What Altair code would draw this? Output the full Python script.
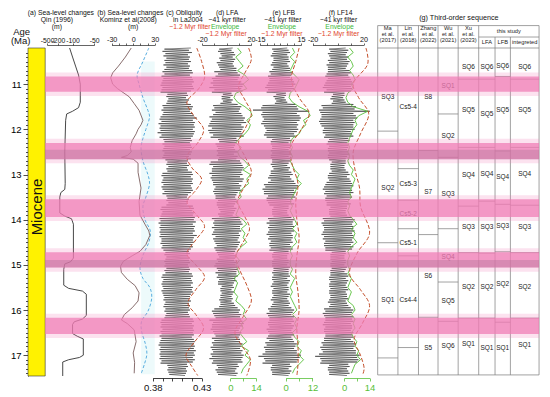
import json
import altair as alt
import pandas as pd

FONT = "Liberation Sans"
W, H = 514, 328


def X(r):
    """column of the reference picture (px) -> plot x (px)"""
    return round((r - 2) * 0.978 - 20, 2)


def AGE(r):
    """row of the reference picture (px) -> position on the age scale"""
    return round(11 + (r - 80) / 46.3, 3)


# ---------------- (a) Qin (1996) sea level (m) ----------------
qin_age = [10.20, 10.40, 10.60, 10.80, 11.00, 11.40, 11.52, 11.60, 11.66, 11.80,
           12.50, 13.20, 13.33, 13.40, 13.50, 13.85, 13.92, 13.98, 14.10, 14.85,
           14.93, 14.98, 15.10, 15.45, 15.52, 15.58, 15.65, 16.12, 16.20, 16.26,
           16.32, 16.52, 16.58, 16.64, 17.00, 17.05, 17.10, 17.15, 17.46]
qin_sl = [-120, -100, -93, -86, -82, -82, -86, -100, -140, -147,
          -153, -150, -153, -180, -187, -187, -153, -107, -98, -98,
          -113, -153, -160, -160, -127, -77, -68, -68, -77, -96,
          -100, -100, -89, -75, -75, -84, -127, -167, -167]

# ---------------- (b) Kominz et al. (2008) sea level (m) ----------------
kom_age = [10.20, 10.40, 10.60, 10.75, 10.86, 11.00, 11.10, 11.28, 11.43, 11.58,
           11.80, 11.90, 12.00, 12.10, 12.25, 12.40, 12.50, 12.58, 12.62, 12.66,
           12.75, 12.95, 13.30, 13.60, 13.90, 14.10, 14.25, 14.35, 14.55, 14.70,
           14.80, 14.92, 15.03, 15.17, 15.32, 15.46, 15.62, 15.80, 15.95, 16.10,
           16.22, 16.30, 16.44, 16.70, 16.95, 17.16, 17.40]
kom_sl = [-2.7, -10.9, -20.5, -28.6, -31.4, -28.6, -21.8, -5.5, 1.4, 8.2,
          13.6, 10.9, 6.8, 4.1, -1.4, -4.1, -2.7, -8.2, -16.4, 0.0,
          6.8, 6.8, 10.9, 8.2, 9.5, 16.4, 21.8, 23.2, 17.7, 9.5,
          -1.4, -13.6, -17.7, -16.4, -8.2, 2.7, 8.2, 6.8, -1.4, -12.3,
          -16.4, -8.2, 1.4, 4.1, 0.0, 2.0, 1.4]
komf_age = [10.20, 10.50, 10.80, 11.00, 11.30, 11.58, 11.72, 12.00, 12.20, 12.40,
            12.70, 13.00, 13.20, 13.50, 13.70, 14.00, 14.25, 14.50, 14.79, 15.08,
            15.30, 15.50, 15.72, 16.03, 16.25, 16.46, 16.75, 16.97, 17.18, 17.40]
komf_sl = [21.8, 13.6, 5.5, 8.2, 13.6, 20.5, 22.8, 17.7, 13.6, 10.9,
           13.6, 20.5, 22.8, 17.7, 13.6, 16.4, 23.9, 21.8, 13.6, 9.5,
           13.6, 23.2, 25.9, 20.5, 11.6, 11.6, 17.0, 19.1, 16.0, 11.3]

# ---------------- ~41 kyr series, one value every 0.025 Myr from 10.20 Ma ----------------
WIG_START, WIG_STEP = 10.2, 0.025
obliquity = [
    0.419, 0.392, 0.417, 0.390, 0.420, 0.393, 0.416, 0.391, 0.418, 0.394,
    0.417, 0.392, 0.419, 0.393, 0.416, 0.391, 0.418, 0.394, 0.417, 0.392,
    0.420, 0.390, 0.421, 0.392, 0.418, 0.389, 0.420, 0.391, 0.421, 0.390,
    0.422, 0.389, 0.420, 0.388, 0.421, 0.390, 0.422, 0.389, 0.419, 0.388,
    0.415, 0.395, 0.416, 0.394, 0.414, 0.396, 0.417, 0.395, 0.415, 0.394,
    0.419, 0.390, 0.421, 0.391, 0.420, 0.389, 0.418, 0.391, 0.421, 0.390,
    0.422, 0.388, 0.425, 0.387, 0.421, 0.389, 0.423, 0.386, 0.422, 0.388,
    0.423, 0.387, 0.421, 0.388, 0.423, 0.385, 0.422, 0.389, 0.421, 0.387,
    0.419, 0.391, 0.420, 0.392, 0.418, 0.390, 0.419, 0.392, 0.420, 0.391,
    0.418, 0.390, 0.420, 0.392, 0.419, 0.391, 0.417, 0.390, 0.419, 0.393,
    0.416, 0.395, 0.415, 0.394, 0.417, 0.396, 0.415, 0.394, 0.416, 0.395,
    0.420, 0.390, 0.421, 0.389, 0.419, 0.391, 0.421, 0.390, 0.420, 0.389,
    0.421, 0.391, 0.419, 0.389, 0.420, 0.390, 0.421, 0.392, 0.419, 0.390,
    0.416, 0.394, 0.415, 0.395, 0.417, 0.394, 0.416, 0.396, 0.415, 0.394,
    0.421, 0.389, 0.422, 0.388, 0.420, 0.390, 0.422, 0.389, 0.421, 0.388,
    0.423, 0.387, 0.422, 0.388, 0.424, 0.386, 0.421, 0.388, 0.423, 0.387,
    0.422, 0.388, 0.423, 0.387, 0.421, 0.388, 0.425, 0.387, 0.422, 0.389,
    0.421, 0.389, 0.422, 0.388, 0.420, 0.390, 0.421, 0.389, 0.419, 0.391,
    0.417, 0.393, 0.418, 0.392, 0.416, 0.394, 0.418, 0.393, 0.417, 0.392,
    0.418, 0.393, 0.416, 0.392, 0.417, 0.394, 0.418, 0.392, 0.417, 0.393,
    0.420, 0.390, 0.421, 0.389, 0.419, 0.391, 0.420, 0.390, 0.421, 0.389,
    0.419, 0.390, 0.421, 0.391, 0.420, 0.389, 0.421, 0.390, 0.419, 0.391,
    0.418, 0.392, 0.417, 0.391, 0.419, 0.393, 0.417, 0.392, 0.418, 0.391,
    0.417, 0.393, 0.418, 0.392, 0.416, 0.394, 0.417, 0.393, 0.418, 0.392,
    0.421, 0.389, 0.422, 0.388, 0.420, 0.389, 0.422, 0.388, 0.421, 0.390,
    0.422, 0.388, 0.421, 0.389, 0.422, 0.387, 0.420, 0.389, 0.422, 0.388,
    0.423, 0.387, 0.422, 0.386, 0.423, 0.388, 0.422, 0.387, 0.424, 0.388,
    0.422, 0.387, 0.423, 0.388, 0.421, 0.387, 0.423, 0.389, 0.421, 0.388,
    0.415, 0.395, 0.416, 0.396, 0.414, 0.395, 0.415, 0.396, 0.414, 0.397,
    0.413]
lfa = [
    5, -6, 4, -7, 6, -5, 7, -4, 5, -6,
    7, -5, 6, -8, 5, -7, 6, -6, 8, -5,
    8, -10, 9, -7, 11, -9, 10, -12, 9, -11,
    12, -13, 14, -11, 13, -14, 12, -10, 13, -12,
    4, -3, 5, -4, 3, -4, 5, -3, 4, -5,
    9, -11, 12, -10, 11, -12, 10, -9, 12, -11,
    13, -14, 15, -12, 14, -13, 16, -14, 12, -15,
    14, -12, 13, -15, 12, -14, 13, -11, 14, -13,
    8, -7, 9, -6, 8, -9, 7, -8, 6, -7,
    7, -8, 9, -7, 6, -8, 9, -6, 8, -7,
    11, -13, 12, -14, 13, -11, 14, -12, 13, -12,
    12, -14, 13, -12, 11, -13, 14, -12, 13, -11,
    10, -11, 12, -9, 11, -10, 12, -11, 9, -10,
    8, -9, 7, -9, 8, -7, 9, -8, 7, -8,
    6, -7, 8, -6, 7, -5, 6, -7, 5, -6,
    10, -12, 11, -10, 12, -11, 13, -10, 11, -12,
    11, -10, 12, -11, 10, -12, 11, -9, 10, -11,
    9, -10, 11, -9, 10, -8, 9, -10, 8, -9,
    7, -8, 6, -7, 8, -6, 7, -8, 6, -7,
    8, -9, 7, -10, 9, -8, 9, -7, 8, -9,
    8, -7, 9, -8, 7, -6, 8, -7, 6, -7,
    5, -4, 6, -5, 4, -5, 6, -4, 5, -5,
    4, -5, 5, -6, 4, -5, 6, -5, 7, -6,
    9, -10, 11, -12, 10, -11, 12, -10, 11, -9,
    12, -14, 13, -11, 14, -12, 13, -12, 11, -13,
    10, -11, 12, -10, 11, -9, 10, -12, 11, -10,
    11, -12, 13, -11, 12, -13, 11, -12, 13, -11,
    12, -13, 14, -12, 13, -14, 12, -11, 13, -12,
    9, -8, 10, -7, 8, -9, 7, -8, 9, -7,
    8]
lfb = [
    5, -6, 6, -5, 7, -6, 5, -7, 6, -5,
    6, -5, 7, -6, 5, -7, 6, -5, 7, -6,
    7, -8, 9, -7, 8, -9, 7, -8, 9, -8,
    10, -9, 11, -10, 9, -11, 10, -9, 8, -10,
    4, -3, 4, -5, 3, -4, 4, -3, 5, -4,
    11, -13, 12, -14, 13, -20, 21, -13, 12, -14,
    14, -13, 15, -12, 14, -13, 12, -14, 13, -12,
    12, -11, 13, -10, 12, -11, 10, -12, 11, -10,
    7, -6, 8, -7, 6, -7, 8, -6, 7, -6,
    6, -7, 7, -6, 8, -7, 6, -7, 7, -6,
    7, -6, 6, -7, 5, -6, 7, -5, 6, -7,
    8, -7, 9, -8, 7, -9, 8, -7, 10, -9,
    11, -12, 13, -11, 12, -13, 10, -12, 11, -12,
    10, -9, 11, -10, 9, -10, 8, -9, 10, -8,
    6, -5, 6, -6, 5, -6, 5, -6, 6, -5,
    8, -9, 10, -8, 9, -10, 9, -8, 10, -9,
    9, -8, 10, -9, 8, -10, 9, -8, 9, -9,
    8, -7, 9, -8, 7, -8, 8, -7, 9, -8,
    6, -5, 6, -6, 5, -6, 5, -5, 6, -6,
    6, -6, 5, -6, 7, -5, 6, -5, 6, -6,
    6, -5, 7, -6, 5, -6, 7, -5, 6, -6,
    5, -7, 6, -5, 6, -6, 5, -6, 7, -5,
    6, -6, 5, -7, 6, -5, 7, -6, 6, -7,
    8, -9, 10, -8, 9, -10, 8, -9, 10, -8,
    9, -8, 10, -9, 8, -9, 10, -8, 9, -10,
    8, -9, 9, -8, 10, -9, 8, -10, 9, -8,
    10, -11, 12, -10, 11, -12, 10, -11, 12, -11,
    12, -13, 15, -16, 14, -12, 13, -11, 12, -13,
    7, -6, 8, -7, 6, -7, 8, -6, 7, -6,
    6]
lf14 = [
    6, -7, 8, -6, 7, -8, 6, -7, 8, -6,
    7, -8, 9, -7, 8, -9, 7, -8, 6, -8,
    9, -8, 10, -9, 8, -10, 9, -8, 10, -9,
    11, -10, 12, -11, 10, -12, 11, -9, 10, -11,
    5, -4, 5, -5, 4, -6, 5, -4, 6, -5,
    12, -13, 14, -12, 13, -15, 25, -14, 12, -13,
    14, -13, 15, -14, 12, -15, 13, -14, 12, -13,
    12, -11, 13, -12, 10, -12, 11, -10, 12, -11,
    8, -7, 9, -8, 7, -9, 8, -7, 8, -8,
    7, -8, 8, -7, 9, -8, 7, -8, 6, -7,
    6, -5, 6, -6, 5, -6, 5, -6, 6, -5,
    8, -7, 9, -8, 7, -8, 9, -7, 10, -9,
    11, -10, 12, -11, 10, -12, 11, -10, 12, -11,
    10, -9, 11, -10, 9, -10, 8, -9, 10, -9,
    7, -6, 7, -7, 6, -7, 6, -7, 7, -6,
    11, -12, 13, -11, 12, -13, 11, -12, 12, -11,
    12, -11, 13, -12, 11, -13, 12, -11, 12, -12,
    11, -10, 12, -11, 10, -11, 12, -10, 11, -10,
    6, -5, 6, -6, 5, -6, 5, -6, 6, -5,
    6, -6, 5, -6, 7, -5, 6, -6, 5, -6,
    7, -6, 8, -7, 6, -7, 8, -6, 7, -7,
    6, -7, 7, -6, 8, -7, 6, -7, 7, -6,
    7, -6, 8, -7, 6, -8, 7, -6, 8, -7,
    10, -11, 12, -10, 11, -12, 10, -11, 12, -10,
    11, -10, 12, -11, 10, -12, 11, -10, 11, -11,
    10, -11, 12, -10, 11, -10, 12, -11, 10, -11,
    12, -13, 14, -12, 13, -14, 12, -13, 14, -12,
    14, -15, 17, -18, 15, -14, 16, -13, 15, -14,
    8, -7, 9, -8, 7, -8, 8, -7, 9, -7,
    7]

# ---------------- envelopes, one value every 0.1 Myr from 10.2 Ma ----------------
ENV_START, ENV_STEP = 10.2, 0.1
lfa_env = [4, 6, 3, 5, 7, 4, 8, 10, 7, 9, 3, 2, 4, 8, 11, 12, 9, 11, 10, 8,
           5, 3, 6, 4, 5, 8, 10, 7, 11, 9, 10, 7, 5, 6, 3, 5, 4, 3,
           7, 9, 6, 8, 7, 9, 6, 4, 3, 5, 3, 4, 5, 2, 4, 3, 2, 4, 3,
           6, 8, 7, 9, 6, 7, 5, 7, 9, 6, 10, 8, 11, 9, 7, 6]
lfb_env = [3, 4, 2, 4, 3, 2, 4, 6, 5, 4, 2, 1.5, 3, 6, 10, 11, 8, 9, 7, 6,
           3, 2, 3, 2, 3, 2, 3, 4, 6, 5, 7, 5, 4, 3, 2, 3, 2, 3,
           4, 5, 3, 5, 4, 5, 3, 2, 3, 2, 2, 3, 2, 4, 3, 2, 3, 2, 3,
           4, 5, 3, 5, 4, 5, 3, 4, 6, 5, 7, 6, 8, 6, 4, 3]
lf14_env = [3, 5, 2, 4, 5, 3, 5, 6, 4, 5, 2, 1, 2, 5, 13, 8, 6, 7, 5, 4,
            3, 2, 3, 2, 3, 2, 3, 5, 4, 6, 5, 4, 3, 4, 2, 3, 2, 3,
            5, 7, 4, 6, 5, 7, 4, 2, 3, 2, 2, 3, 2, 4, 3, 2, 4, 3, 2,
            5, 6, 4, 6, 5, 6, 4, 5, 7, 6, 8, 7, 9, 6, 5, 4]

# ---------------- ~1.2 Myr filter curves ----------------
oblf_age = [10.2, 10.5, 10.85, 11.1, 11.4, 11.7, 12.0, 12.3, 12.6, 12.85, 13.1, 13.35, 13.6, 13.9,
            14.15, 14.45, 14.75, 15.0, 15.27, 15.55, 15.85, 16.1, 16.4, 16.7, 17.0, 17.25, 17.45]
oblf_val = [0.425, 0.430, 0.433, 0.427, 0.415, 0.422, 0.432, 0.426, 0.415, 0.420, 0.430, 0.424, 0.415, 0.425,
            0.433, 0.424, 0.415, 0.424, 0.433, 0.424, 0.416, 0.424, 0.432, 0.423, 0.414, 0.420, 0.426]
lfaf_age = [10.2, 10.45, 10.75, 11.05, 11.35, 11.65, 11.95, 12.3, 12.6, 12.95, 13.25, 13.6,
            13.9, 14.2, 14.5, 14.8, 15.1, 15.45, 15.8, 16.15, 16.5, 16.8, 17.1, 17.45]
lfaf_val = [10, 11.5, 8, 4.5, 8, 11.5, 8.5, 4.5, 8, 11.5, 8, 4,
            7.5, 10.5, 7, 3, 5, 9, 11.5, 7, 2.5, 6.5, 11, 9]
lfbf_age = [10.2, 10.5, 10.9, 11.3, 11.65, 12.0, 12.4, 12.8, 13.2, 13.6,
            14.0, 14.4, 14.8, 15.2, 15.6, 16.0, 16.4, 16.8, 17.2, 17.45]
lfbf_val = [6, 4.5, 2.5, 6, 10.5, 7, 2, 3, 5.5, 4.5, 5, 6, 5, 4.5, 5.5, 6, 5, 5.5, 5.5, 5]
lf14f_age = [10.2, 10.55, 11.0, 11.3, 11.65, 12.1, 12.5, 12.9, 13.3, 13.7,
             14.3, 14.75, 15.2, 15.55, 15.9, 16.3, 16.65, 17.0, 17.3, 17.45]
lf14f_val = [12, 13, 5, 8, 13.5, 9, 5, 6, 8.5, 9, 14, 7, 3, 9, 14, 10, 5.5, 9, 11, 10]

# ---------------- highlighted intervals (Ma) ----------------
band_top = [10.83, 12.30, 13.55, 14.72, 16.17]
band_bot = [11.17, 12.66, 13.94, 15.06, 16.53]
dark_top = [12.45, 14.89]
dark_bot = [12.66, 15.06]

# ---------------- (g) third-order sequence table ----------------
tab_cols = ["Ma", "Lin", "Zhang", "Wu", "Xu", "LFA", "LFB", "integreted"]
tab_years = ["(2017)", "(2018)", "(2022)", "(2021)", "(2023)"]
tab_lines = [
    [12.04, 14.51, 17.06],
    [12.87, 13.57, 14.20, 14.80, 16.83],
    [12.47, 14.33, 16.16],
    [11.66, 12.62, 14.20, 15.38, 16.25],
    [10.89, 12.40, 13.70, 14.73, 16.18],
    [10.89, 12.40, 13.59, 14.74, 16.18],
    [10.83, 12.48, 13.66, 14.71, 16.27],
    [10.89, 12.40, 13.68, 14.73, 16.18],
]
tab_labels = [
    [(11.28, "SQ3"), (13.30, "SQ2"), (15.77, "SQ1")],
    [(11.50, "Cs5-4"), (13.22, "Cs5-3"), (13.87, "Cs5-2"), (14.51, "Cs5-1"), (15.77, "Cs4-4")],
    [(11.28, "S8"), (13.38, "S7"), (15.25, "S6"), (16.83, "S5")],
    [(11.04, "SQ1"), (12.14, "SQ2"), (13.43, "SQ3"), (14.82, "SQ4"), (15.79, "SQ5"), (16.79, "SQ6")],
    [(10.63, "SQ6"), (11.58, "SQ5"), (13.01, "SQ4"), (14.17, "SQ3"), (15.49, "SQ2"), (16.76, "SQ1")],
    [(10.63, "SQ6"), (11.66, "SQ5"), (12.98, "SQ4"), (14.17, "SQ3"), (15.49, "SQ2"), (16.83, "SQ1")],
    [(10.59, "SQ6"), (11.58, "SQ5"), (13.05, "SQ4"), (14.13, "SQ3"), (15.43, "SQ2"), (16.84, "SQ1")],
    [(10.63, "SQ6"), (11.58, "SQ5"), (12.99, "SQ4"), (14.17, "SQ3"), (15.49, "SQ2"), (16.77, "SQ1")],
]
tab_edges_ref = [380, 400.7, 421.7, 441.7, 462.3, 483.3, 500, 515.7, 545]

# ---------------- colours ----------------
RED = "#c4502c"
GREEN = "#58c03a"
PINK = "#f07cb4"
WIGGLE = "#3d3d3d"

# ================= helpers =================
yscale = alt.Scale(domain=[10.2, 17.46], reverse=True, nice=False, zero=False)
MAJOR = "abs(datum.value - round(datum.value)) < 0.01"
yaxis = alt.Axis(values=[round(10.3 + 0.1 * i, 1) for i in range(72)],
                 labelExpr=f"{MAJOR} ? format(round(datum.value), 'd') : ''",
                 tickSize={"condition": {"test": MAJOR, "value": 5}, "value": 2.5},
                 title=None, grid=False, labelFontSize=9.5, labelPadding=2,
                 labelColor="#000", tickColor="#000", domainColor="#000",
                 tickWidth=0.7, domainWidth=0.8, labelOverlap=False)


def yy(f):
    return alt.Y(f"{f}:Q", scale=yscale, axis=yaxis)


def xsc(dom, rng):
    return alt.Scale(domain=dom, range=rng, nice=False, zero=False)


def shown(vals):
    return "indexof(" + json.dumps(vals) + ", datum.value) >= 0 ? toString(datum.value) : ''"


def top_axis(vals, show, size=7.2):
    return alt.Axis(orient="top", values=vals, labelExpr=shown(show), title=None, grid=False,
                    offset=3, tickSize=2, tickWidth=0.7, domainWidth=0.7, labelFontSize=size,
                    labelPadding=0, labelFlush=False, labelOverlap=False,
                    domainColor="#222", tickColor="#222", labelColor="#111")


def bottom_axis(vals, show, color):
    return alt.Axis(orient="bottom", values=vals, labelExpr=shown(show), title=None, grid=False,
                    offset=2, tickSize=3, tickWidth=0.8, domainWidth=0.8, labelFontSize=9.5,
                    labelPadding=1, labelFlush=False, labelOverlap=False,
                    domainColor=color, tickColor=color, labelColor=color)


def series(ages, vals):
    return pd.DataFrame({"age": ages, "v": vals})


def regular(start, step, vals):
    return series([round(start + step * i, 3) for i in range(len(vals))], vals)


def line(df, scale, axis, **mk):
    return alt.Chart(df).mark_line(**mk).encode(
        x=alt.X("v:Q", scale=scale, axis=axis), y=yy("age"), order=alt.Order("age:Q"))


WIG_STYLE = dict(color=WIGGLE, strokeWidth=0.75, opacity=0.9)

# scales of the panels
s_qin = xsc([-500, -200, -100, -50], [X(42), X(53), X(68), X(90)])
s_kom = xsc([-30, 30], [X(108), X(152)])
s_obl = xsc([0.38, 0.43], [X(150), X(200)])
s_lfa = xsc([-20, 20], [X(200.5), X(250.5)])
s_lfb = xsc([-15, 15], [X(259.5), X(301.5)])
s_lf14 = xsc([-20, 20], [X(313.5), X(365.5)])
s_lfa_e = xsc([0, 14], [X(229.3), X(255.5)])
s_lfb_e = xsc([0, 12], [X(286), X(313.3)])
s_lf14_e = xsc([0, 14], [X(345.7), X(371.7)])
s_tab = xsc(list(range(9)), [X(e) for e in tab_edges_ref])
s_pix = xsc([0, W], [0, W])

layers = []

# faint shading behind the filtered Kominz curve
shade = pd.DataFrame({"v1": [11], "v2": [30], "a1": [10.5], "a2": [17.42]})
layers.append(alt.Chart(shade).mark_rect(color="#d2f3f5", opacity=0.4).encode(
    x=alt.X("v1:Q", scale=s_kom, axis=None), x2="v2:Q", y=yy("a1"), y2="a2:Q"))

# epoch bar
epoch = pd.DataFrame({"name": ["Miocene"], "start": [10.2], "end": [17.46], "mid": [13.72]})
layers.append(alt.Chart(epoch).mark_rect(color="#fff200", stroke="#333", strokeWidth=0.6).encode(
    x=alt.value(0), x2=alt.value(17.2), y=yy("start"), y2="end:Q"))

# (a), (b)
layers.append(line(series(qin_age, qin_sl), s_qin,
                   top_axis([-500, -200, -100, -50], [-500, -200, -100, -50], 6.8),
                   color="#333", strokeWidth=0.9))
layers.append(line(series(komf_age, komf_sl), s_kom, None, color="#5aaee0", strokeWidth=1,
                   strokeDash=[3, 2], interpolate="catmull-rom"))
layers.append(line(series(kom_age, kom_sl), s_kom,
                   top_axis([-30, -20, -10, 0, 10, 20, 30], [-30, 0, 30]),
                   color="#7b5d5d", strokeWidth=0.9))

# (c) obliquity
layers.append(line(regular(WIG_START, WIG_STEP, obliquity), s_obl,
                   bottom_axis([0.38, 0.39, 0.4, 0.41, 0.42, 0.43], [0.38, 0.43], "#111"), **WIG_STYLE))
layers.append(line(series(oblf_age, oblf_val), s_obl, None, color=RED, strokeWidth=1,
                   strokeDash=[4, 2], interpolate="catmull-rom"))

# (d) (e) (f)
layers.append(line(regular(WIG_START, WIG_STEP, lfa), s_lfa,
                   top_axis([-20, -10, 0, 10, 20], [-20, 20]), **WIG_STYLE))
layers.append(line(regular(WIG_START, WIG_STEP, lfb), s_lfb,
                   top_axis([-15, -10, -5, 0, 5, 10, 15], [-15, 15]), **WIG_STYLE))
layers.append(line(regular(WIG_START, WIG_STEP, lf14), s_lf14,
                   top_axis([-20, -10, 0, 10, 20], [-20, 20]), **WIG_STYLE))

layers.append(line(regular(ENV_START, ENV_STEP, lfa_env), s_lfa_e,
                   bottom_axis([0, 7, 14], [0, 14], GREEN), color=GREEN, strokeWidth=0.9))
layers.append(line(regular(ENV_START, ENV_STEP, lfb_env), s_lfb_e,
                   bottom_axis([0, 6, 12], [0, 12], GREEN), color=GREEN, strokeWidth=0.9))
layers.append(line(regular(ENV_START, ENV_STEP, lf14_env), s_lf14_e,
                   bottom_axis([0, 7, 14], [0, 14], GREEN), color=GREEN, strokeWidth=0.9))

layers.append(line(series(lfaf_age, lfaf_val), s_lfa_e, None, color=RED, strokeWidth=1,
                   strokeDash=[4, 2], interpolate="catmull-rom"))
layers.append(line(series(lfbf_age, lfbf_val), s_lfb_e, None, color=RED, strokeWidth=1,
                   strokeDash=[4, 2], interpolate="catmull-rom"))
layers.append(line(series(lf14f_age, lf14f_val), s_lf14_e, None, color=RED, strokeWidth=1,
                   strokeDash=[4, 2], interpolate="catmull-rom"))

# ---------------- table ----------------
T_TOP, T_SUB, T_HEAD, T_BOT = AGE(20), AGE(31.7), 10.2, AGE(378)
vrules = pd.DataFrame({"c": list(range(9)),
                       "a1": [T_SUB if c in (6, 7) else T_TOP for c in range(9)],
                       "a2": [T_BOT] * 9})
layers.append(alt.Chart(vrules).mark_rule(color="#7a7a7a", strokeWidth=0.7).encode(
    x=alt.X("c:Q", scale=s_tab, axis=None), y=yy("a1"), y2="a2:Q"))
h_c1, h_c2, h_a = [0, 5, 0, 0], [8, 8, 8, 8], [T_TOP, T_SUB, T_HEAD, T_BOT]
for c, ages in enumerate(tab_lines):
    for a in ages:
        h_c1.append(c)
        h_c2.append(c + 1)
        h_a.append(a)
hrules = pd.DataFrame({"c1": h_c1, "c2": h_c2, "age": h_a})
layers.append(alt.Chart(hrules).mark_rule(color="#7a7a7a", strokeWidth=0.7).encode(
    x=alt.X("c1:Q", scale=s_tab, axis=None), x2="c2:Q", y=yy("age")))

cells = pd.DataFrame([{"c": ci + 0.5, "age": a, "t": t}
                      for ci, lst in enumerate(tab_labels) for a, t in lst])
layers.append(alt.Chart(cells).mark_text(fontSize=6.5, color="#222", font=FONT).encode(
    x=alt.X("c:Q", scale=s_tab, axis=None), y=yy("age"), text="t:N"))

head_rows = []
for ci in range(5):
    head_rows += [(ci + 0.5, AGE(22.6), tab_cols[ci]), (ci + 0.5, AGE(28.4), "et al."),
                  (ci + 0.5, AGE(34.6), tab_years[ci])]
head_rows += [(6.9, AGE(25.5), "this study")]
for ci in range(5, 8):
    head_rows += [(ci + 0.5, AGE(37.3), tab_cols[ci])]
heads = pd.DataFrame(head_rows, columns=["c", "age", "t"])
layers.append(alt.Chart(heads).mark_text(fontSize=5.7, color="#222", font=FONT).encode(
    x=alt.X("c:Q", scale=s_tab, axis=None), y=yy("age"), text="t:N"))

# ---------------- pink intervals ----------------
bands = pd.DataFrame({"top": band_top, "bot": band_bot,
                      "ftop": [t - 0.09 for t in band_top], "fbot": [b + 0.09 for b in band_bot]})
layers.append(alt.Chart(bands).mark_rect(color=PINK, opacity=0.22).encode(
    x=alt.value(17.2), x2=alt.value(X(545)), y=yy("ftop"), y2="fbot:Q"))
layers.append(alt.Chart(bands).mark_rect(color=PINK, opacity=0.72).encode(
    x=alt.value(17.2), x2=alt.value(X(545)), y=yy("top"), y2="bot:Q"))
dark = pd.DataFrame({"top": dark_top, "bot": dark_bot})
layers.append(alt.Chart(dark).mark_rect(color="#9c6a8c", opacity=0.3).encode(
    x=alt.value(17.2), x2=alt.value(X(545)), y=yy("top"), y2="bot:Q"))

# epoch name
layers.append(alt.Chart(epoch).mark_text(angle=270, fontSize=15, color="#111", font=FONT).encode(
    x=alt.value(8.6), y=yy("mid"), text="name:N"))

# ---------------- titles ----------------
BLACK = "#111"
ORANGE = "#e0442c"
LGREEN = "#3cb83c"
R1, R2, R3, R4 = 6.7, 14.3, 21.6, 28.6
title_rows = [
    ("(a) Sea-level changes", 56, R1, BLACK, 6.8), ("Qin (1996)", 52, R2, BLACK, 6.8),
    ("(m)", 52, R3, BLACK, 6.8),
    ("(b) Sea-level changes", 127, R1, BLACK, 6.8), ("Kominz et al(2008)", 125, R2, BLACK, 6.8),
    ("(m)", 130, R3, BLACK, 6.8),
    ("(c) Obliquity", 182, R1, BLACK, 6.8), ("in La2004", 186, R2, BLACK, 6.8),
    ("~1.2 Myr filter", 188, R3, ORANGE, 6.8),
    ("(d) LFA", 226, R1, BLACK, 6.8), ("~41 kyr filter", 226, R2, BLACK, 6.8),
    ("Envelope", 224, R3, LGREEN, 6.8), ("~1.2 Myr filter", 225, R4, ORANGE, 6.8),
    ("(e) LFB", 284, R1, BLACK, 6.8), ("~41 kyr filter", 283, R2, BLACK, 6.8),
    ("Envelope", 282, R3, LGREEN, 6.8), ("~1.2 Myr filter", 282, R4, ORANGE, 6.8),
    ("(f) LF14", 342, R1, BLACK, 6.8), ("~41 kyr filter", 340, R2, BLACK, 6.8),
    ("Envelope", 341, R3, LGREEN, 6.8), ("~1.2 Myr filter", 340, R4, ORANGE, 6.8),
    ("(g) Third-order sequence", 463, 12.7, BLACK, 7.2),
    ("Age", 16, 26.5, BLACK, 9.5), ("(Ma)", 15, 36, BLACK, 9.5),
]
titles = pd.DataFrame({"t": [r[0] for r in title_rows], "x": [X(r[1]) for r in title_rows],
                       "age": [AGE(r[2]) for r in title_rows], "col": [r[3] for r in title_rows],
                       "fs": [r[4] for r in title_rows]})
layers.append(alt.Chart(titles).mark_text(font=FONT).encode(
    x=alt.X("x:Q", scale=s_pix, axis=None), y=yy("age"), text="t:N",
    color=alt.Color("col:N", scale=None), size=alt.Size("fs:Q", scale=None)))

chart = alt.layer(*layers).resolve_scale(x="independent").properties(
    width=W, height=H,
    padding={"left": 20, "top": 40, "right": 0, "bottom": 15},
    autosize=alt.AutoSizeParams(type="none"),
).configure(font=FONT).configure_view(stroke=None)

chart.save("out.html", embed_options={"renderer": "svg", "actions": False})
